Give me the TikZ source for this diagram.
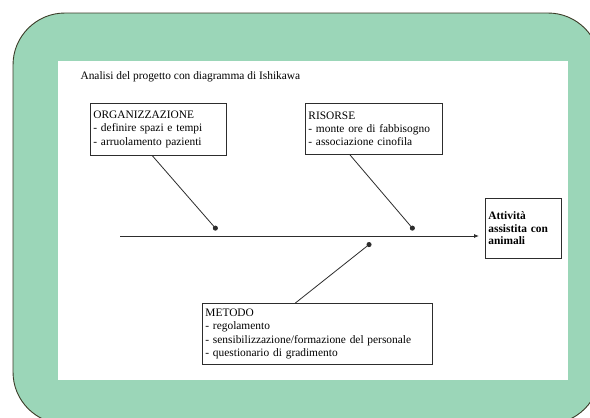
\documentclass[tikz,border=0pt]{standalone}
\usepackage{fontspec}
\setmainfont{Liberation Serif}
\usetikzlibrary{positioning,calc,arrows.meta}

\definecolor{cornice}{RGB}{155,214,184}
\definecolor{bordo}{RGB}{60,60,40}
\definecolor{tratto}{RGB}{45,45,45}

\begin{document}
\begin{tikzpicture}[x=1pt, y=-1pt,
    font=\fontsize{11.4}{13.3}\selectfont,
    causa/.style={draw=tratto, line width=0.8pt, anchor=north west,
      align=left, inner xsep=3pt, inner ysep=3pt},
    spina/.style={draw=tratto, line width=0.8pt},
    punto/.style={spina, -{Circle[length=5pt]}}
  ]
    \useasboundingbox (0,0) rectangle (590,418);
    \clip (0,0) rectangle (590,418);

    % cornice verde e foglio bianco
    \draw[fill=cornice, draw=bordo, line width=0.9pt, rounded corners=52pt]
      (13,13) rectangle (600,424);
    \fill[white] (58,61) rectangle (568,380);

    \node[anchor=west] (titolo) at (77,77) {
      Analisi del progetto con diagramma di Ishikawa
    };

    % cause
    \node[causa, text width=130pt, minimum height=52pt] (org) at (90,103) {
      ORGANIZZAZIONE \\
      - definire spazi e tempi \\
      - arruolamento pazienti
    };
    \node[causa, text width=131pt, minimum height=51pt] (ris) at (305,103) {
      RISORSE \\
      - monte ore di fabbisogno \\
      - associazione cinofila
    };
    \node[causa, text width=224pt, minimum height=61pt] (met) at (202,303) {
      METODO \\
      - regolamento \\
      - sensibilizzazione/formazione del personale \\
      - questionario di gradimento
    };

    % effetto
    \node[causa, text width=70pt, minimum height=60pt,
      font=\fontsize{11.4}{12.5}\selectfont\bfseries] (eff) at (485,198) {
      Attività \\
      assistita con \\
      animali
    };

    % spina dorsale
    \coordinate (coda) at (120,236);
    \coordinate (testa) at (479,236);
    \draw[spina, -{Latex[length=5pt, width=4pt]}] (coda) -- (testa);

    \coordinate (p1) at (217,230);
    \coordinate (p2) at (414,230);
    \coordinate (p3) at (371,243);

    \draw[punto] ([xshift=-6pt]org.south) -- (p1);
    \draw[punto] ([xshift=-24pt]ris.south) -- (p2);
    \draw[punto] ([xshift=-22pt]met.north) -- (p3);
\end{tikzpicture}
\end{document}
